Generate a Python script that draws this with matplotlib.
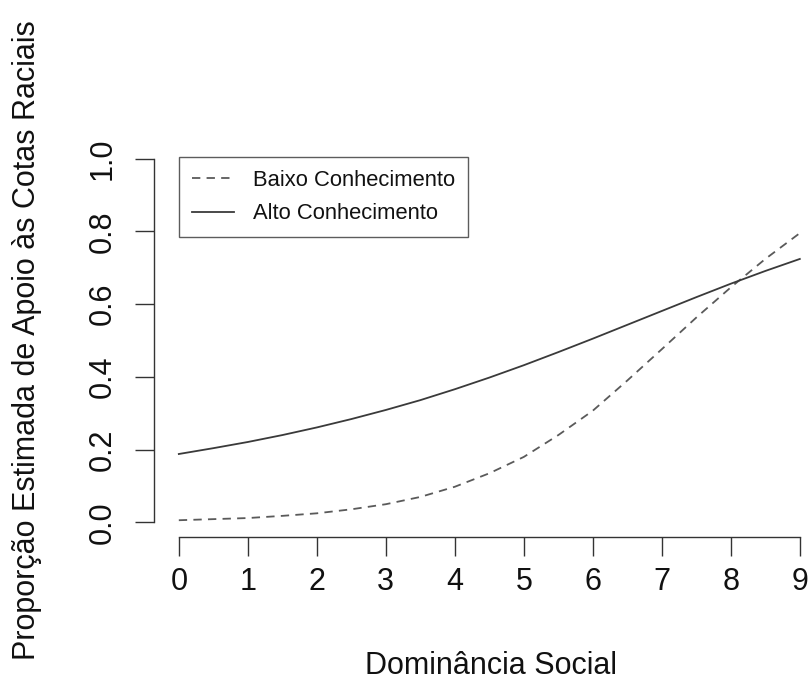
import matplotlib
matplotlib.use('Agg')
import matplotlib.pyplot as plt

plt.rcParams['font.family'] = ['Liberation Sans', 'DejaVu Sans']
plt.rcParams['lines.scale_dashes'] = False

# dominancia social (0-9)
dominancia = [0, 0.5, 1, 1.5, 2, 2.5, 3, 3.5, 4, 4.5, 5, 5.5, 6, 6.5, 7, 7.5, 8, 8.5, 9]
# proporcao estimada de apoio
baixo = [0.006, 0.009, 0.012, 0.018, 0.025, 0.036, 0.050, 0.070, 0.098, 0.135,
         0.180, 0.240, 0.307, 0.390, 0.476, 0.563, 0.646, 0.724, 0.795]
alto = [0.188, 0.204, 0.221, 0.240, 0.261, 0.284, 0.309, 0.336, 0.366, 0.398,
        0.432, 0.468, 0.505, 0.543, 0.581, 0.619, 0.656, 0.691, 0.724]

xticks = list(range(10))
yticks = [0.0, 0.2, 0.4, 0.6, 0.8, 1.0]
ytick_labels = ['0.0', '0.2', '0.4', '0.6', '0.8', '1.0']

fig = plt.figure(figsize=(8.1, 6.81), dpi=100)
ax = fig.add_axes([0.1901, 0.2115, 0.828, 0.5771])

ax.plot(dominancia, baixo, color='#5a5a5a', lw=1.3, dashes=(6, 4.5),
        label='Baixo Conhecimento')
ax.plot(dominancia, alto, color='#3a3a3a', lw=1.3, label='Alto Conhecimento')

ax.set_xlim(-0.36, 9.36)
ax.set_ylim(-0.04, 1.04)

for s in ['top', 'right']:
    ax.spines[s].set_visible(False)
ax.spines['left'].set_bounds(0, 1)
ax.spines['bottom'].set_bounds(0, 9)
for s in ['left', 'bottom']:
    ax.spines[s].set_color('#333333')
    ax.spines[s].set_linewidth(1.0)

ax.set_xticks(xticks)
ax.set_yticks(yticks)
ax.set_yticklabels(ytick_labels, rotation=90, va='center')
ax.tick_params(axis='both', length=13.5, width=1.0, color='#333333',
               labelsize=22, labelcolor='#111111')
ax.tick_params(axis='x', pad=8)
ax.tick_params(axis='y', pad=12.5)

fig.text(491 / 810, 1 - 674 / 681, 'Dominância Social', fontsize=22,
         ha='center', va='baseline', color='#111111')
fig.text(42 / 810, 1 - 340 / 681, 'Proporção Estimada de Apoio às Cotas Raciais',
         fontsize=22, rotation=90, ha='right', va='center', color='#111111')

leg = ax.legend(loc='upper left', bbox_to_anchor=(179 / 810, 1 - 157 / 681),
                bbox_transform=fig.transFigure, borderaxespad=0, fontsize=15.8,
                frameon=True, fancybox=False, handlelength=1.9,
                handletextpad=0.85, borderpad=0.6, labelspacing=0.55)
leg.get_frame().set_edgecolor('#333333')
leg.get_frame().set_linewidth(1.0)
for t in leg.get_texts():
    t.set_color('#111111')

fig.savefig('out.png', dpi=100)
